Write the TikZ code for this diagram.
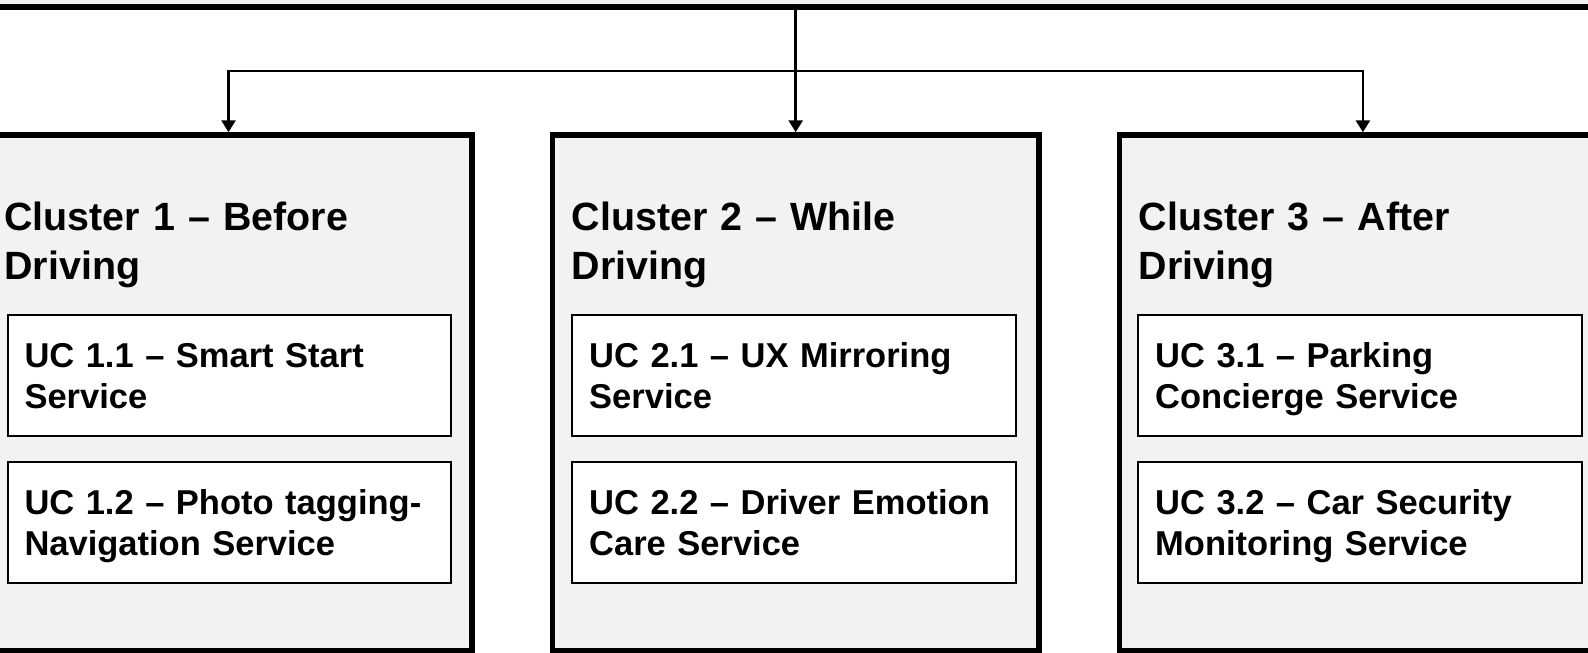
\documentclass[tikz,border=0pt]{standalone}
\usepackage{fontspec}
\setmainfont{Liberation Sans}
\usetikzlibrary{arrows.meta}

\tikzset{
    cluster/.style={draw, line width=5.5pt, fill=gray!10, minimum width=486.7pt, minimum height=515.5pt, inner sep=0pt},
    clustertitle/.style={anchor=base west, inner sep=0pt, text width=460pt, align=left, font=\bfseries\fontsize{39.4}{49}\selectfont},
    ucbox/.style={draw, line width=2pt, fill=white, minimum width=443.5pt, minimum height=121.5pt,
        inner xsep=16.5pt, inner ysep=0pt, text width=410pt, align=left,
        text height=52.5pt, text depth=69pt, font=\bfseries\fontsize{34.5}{41}\selectfont},
    connector/.style={line width=2.7pt},
    arrowtip/.style={-{Triangle[width=14pt,length=12pt]}}
}

\begin{document}
\begin{tikzpicture}[x=1pt, y=-1pt]
    \useasboundingbox (0,0) rectangle (1588,653);
    \clip (0,0) rectangle (1588,653);

    % top level box, cut off by the frame
    \node[draw, line width=6pt, fill=gray!10, minimum width=1700pt, minimum height=100pt] (root) at (795.7,-43) {};

    \node[cluster] (c1) at (228.5,392.75) {};
    \node[cluster] (c2) at (795.7,392.75) {};
    \node[cluster] (c3) at (1362.9,392.75) {};

    \node[clustertitle] (t1) at (4.3,230.7) {Cluster 1 – Before\\Driving};
    \node[clustertitle] (t2) at (571.5,230.7) {Cluster 2 – While\\Driving};
    \node[clustertitle] (t3) at (1138.7,230.7) {Cluster 3 – After\\Driving};

    \node[ucbox] (uc11) at (229.5,375.5) {UC 1.1 – Smart Start\\Service};
    \node[ucbox] (uc12) at (229.5,522.5) {UC 1.2 – Photo tagging-\\Navigation Service};
    \node[ucbox] (uc21) at (794.2,375.5) {UC 2.1 – UX Mirroring\\Service};
    \node[ucbox] (uc22) at (794.2,522.5) {UC 2.2 – Driver Emotion\\Care Service};
    \node[ucbox] (uc31) at (1360.2,375.5) {UC 3.1 – Parking\\Concierge Service};
    \node[ucbox] (uc32) at (1360.2,522.5) {UC 3.2 – Car Security\\Monitoring Service};

    \coordinate (hub) at (795.7,71);
    \draw[connector, arrowtip] (root.south) -- (c2.north);
    \draw[connector, arrowtip] (hub) -| (c1.north);
    \draw[connector, arrowtip] (hub) -| (c3.north);
\end{tikzpicture}
\end{document}
